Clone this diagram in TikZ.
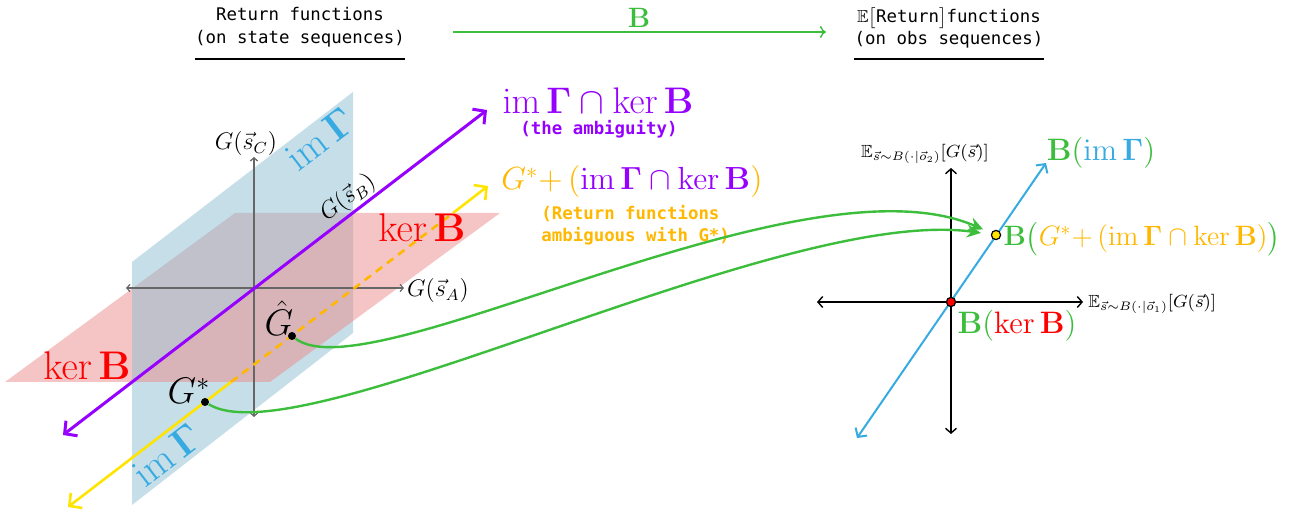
\RequirePackage{fix-cm}
\documentclass[tikz,border=0pt]{standalone}
\usepackage{amsmath,amssymb}
\usepackage[no-math]{fontspec}
\newfontfamily\monof{DejaVu Sans Mono}
\usetikzlibrary{arrows.meta,calc}
\definecolor{purp}{RGB}{150,0,255}
\definecolor{ylw}{RGB}{255,228,0}
\definecolor{orng}{RGB}{255,183,0}
\definecolor{grn}{RGB}{60,190,60}
\definecolor{bl}{RGB}{55,170,225}
\definecolor{planeB}{RGB}{139,189,209}
\definecolor{planeR}{RGB}{235,139,139}
\definecolor{rd}{RGB}{255,0,0}
\begin{document}
\begin{tikzpicture}[x=0.5pt,y=-0.5pt,
  mono/.style={font=\monof\fontsize{8.7}{11.35}\selectfont, inner sep=0pt},
  monob/.style={font=\monof\bfseries\fontsize{8.7}{11}\selectfont, inner sep=0pt},
  hugem/.style={font=\fontsize{20}{23}\selectfont, inner sep=0pt},
  bigm/.style={font=\fontsize{18.5}{21}\selectfont, inner sep=0pt},
  midm/.style={font=\fontsize{16}{19}\selectfont, inner sep=0pt},
  rlab/.style={font=\fontsize{14}{17}\selectfont, inner sep=0pt},
  rlabb/.style={font=\fontsize{15.5}{18}\selectfont, inner sep=0pt},
  axl/.style={font=\fontsize{12}{14}\selectfont, inner sep=0pt},
  eax/.style={font=\fontsize{8.8}{11}\selectfont, inner sep=0pt},
  bdot/.style={circle, fill=black, inner sep=0pt, minimum size=4pt},
  cdot/.style={circle, draw=black, line width=0.6pt, inner sep=0pt, minimum size=4.6pt},
  planeBfill/.style={fill=planeB, fill opacity=0.5},
  planeRfill/.style={fill=planeR, fill opacity=0.5},
  gax/.style={draw=black!60, line width=0.6pt, >={Straight Barb[length=1.6pt,width=3.6pt]}, <->},
  kax/.style={draw=black, line width=0.7pt, >={Straight Barb[length=2.4pt,width=5.5pt]}, <->},
  gconn/.style={draw=grn, line width=1.2pt, -{Stealth[length=7pt,width=6.5pt]}},
]
\useasboundingbox (0,0) rectangle (1292,518);

% ---------- planes ----------
\coordinate (R1) at (235,213); \coordinate (R2) at (500,213);
\coordinate (R3) at (270,382); \coordinate (R4) at (5,382);
\coordinate (B1) at (132,262); \coordinate (B2) at (353,92);
\coordinate (B3) at (353,333); \coordinate (B4) at (132,505);
\coordinate (L1) at (953,-246); \coordinate (L2) at (-445,822);
\begin{scope}
  \clip (L1) -- (L2) -- (-445,-246) -- cycle;
  \path[planeRfill] (R1) -- (R2) -- (R3) -- (R4) -- cycle;
  \path[planeBfill] (B1) -- (B2) -- (B3) -- (B4) -- cycle;
\end{scope}
\begin{scope}
  \clip (L1) -- (L2) -- (953,822) -- cycle;
  \path[planeBfill] (B1) -- (B2) -- (B3) -- (B4) -- cycle;
  \path[planeRfill] (R1) -- (R2) -- (R3) -- (R4) -- cycle;
\end{scope}

% ---------- left axes ----------
\coordinate (O) at (254,288);
\coordinate (axL) at (126,288); \coordinate (axR) at (404,288);
\coordinate (axT) at (254,157); \coordinate (axB) at (254,417);
\draw[gax] (axL) -- (axR);
\draw[gax] (axB) -- (axT);
\node[axl] (lA) at (438,291) {$G(\vec{s}_A)$};
\node[axl] (lC) at (246,144) {$G(\vec{s}_C)$};
\node[axl, rotate=37.5] (lB) at (348,198) {$G(\vec{s}_B)$};

% ---------- purple line ----------
\coordinate (pA) at (63,435); \coordinate (pB) at (487,110);
\draw[purp, line width=1.5pt, >={Straight Barb[length=4.5pt,width=9.5pt]}, <->] (pA) -- (pB);

% ---------- yellow line ----------
\coordinate (yA) at (68,507); \coordinate (y1) at (231,382);
\coordinate (y2) at (453,213); \coordinate (yB) at (488,186);
\draw[ylw, line width=1.3pt, {Straight Barb[length=4.5pt,width=9.5pt]}-] (yA) -- (y1);
\draw[orng, line width=1.3pt, dash pattern=on 4pt off 3pt] (y1) -- (y2);
\draw[ylw, line width=1.3pt, -{Straight Barb[length=4.5pt,width=9.5pt]}] (y2) -- (yB);

% ---------- dots ----------
\node[bdot] (gstar) at (205,402) {};
\node[bdot] (ghat) at (292,336) {};
\node[bigm] (lgstar) at (189,391) {$G^{*}$};
\node[bigm] (lghat) at (279,318) {$\hat{G}$};

% ---------- plane labels ----------
\node[hugem, text=rd] (kerL) at (87,366) {$\ker\mathbf{B}$};
\node[hugem, text=rd] (kerR) at (422,228) {$\ker\mathbf{B}$};
\node[hugem, text=bl, rotate=37.5] (imT) at (320,139) {$\operatorname{im}\mathbf{\Gamma}$};
\node[hugem, text=bl, rotate=37.5] (imB) at (167,455) {$\operatorname{im}\mathbf{\Gamma}$};

% ---------- middle labels ----------
\node[bigm, text=purp] (amb) at (598,101) {$\operatorname{im}\mathbf{\Gamma}\cap\ker\mathbf{B}$};
\node[monob, text=purp] (ambt) at (599,129) {(the ambiguity)};
\node[midm, text=orng] (coset) at (632,182) {$G^{*}{+}\,(\textcolor{purp}{\operatorname{im}\mathbf{\Gamma}\cap\ker\mathbf{B}})$};
\node[monob, text=orng, align=left, anchor=west] (cosett) at (541,225) {(Return functions\\ambiguous with G*)};

% ---------- headings ----------
\node[mono, align=center] (h1) at (300,27) {Return functions\\(on state sequences)};
\node[mono, align=center] (h2) at (949,28) {$\mathbb{E}\bigl[$Return$\bigr]$functions\\(on obs sequences)};
\draw[line width=0.7pt] ([yshift=-6pt]h1.south west) -- ([yshift=-6pt]h1.south east);
\draw[line width=0.7pt] ([yshift=-5pt]h2.south west) -- ([yshift=-5pt]h2.south east);
\coordinate (ta) at (453,32); \coordinate (tb) at (826,32);
\draw[grn, line width=0.7pt, -{To[length=3pt,width=6pt]}] (ta) -- (tb);
\node[rlab, text=grn] (Btop) at (639,18) {$\mathbf{B}$};

% ---------- right plot ----------
\coordinate (O2) at (951,302);
\coordinate (hL) at (817,302); \coordinate (hR) at (1083,302);
\coordinate (vT) at (951,168); \coordinate (vB) at (951,434);
\draw[kax] (hL) -- (hR);
\draw[kax] (vB) -- (vT);
\coordinate (bA) at (857,438); \coordinate (bB) at (1046,163);
\draw[bl, line width=1pt, >={Straight Barb[length=3.2pt,width=7pt]}, <->] (bA) -- (bB);
\node[eax] (e2) at (925,154) {$\mathbb{E}_{\vec{s}\sim B(\cdot|\vec{o}_2)}[G(\vec{s})]$};
\node[eax, anchor=west] (e1) at (1088,304) {$\mathbb{E}_{\vec{s}\sim B(\cdot|\vec{o}_1)}[G(\vec{s})]$};
\node[cdot, fill=rd] (rdot) at (O2) {};
\node[cdot, fill=ylw] (ydot) at (996,235) {};
\node[rlabb, text=grn] (bim) at (1101,153) {$\mathbf{B}(\textcolor{bl}{\operatorname{im}\mathbf{\Gamma}})$};
\node[rlab, text=grn] (bco) at (1142,239) {$\mathbf{B}\big(\textcolor{orng}{G^{*}{+}\,(\operatorname{im}\mathbf{\Gamma}\cap\ker\mathbf{B})}\big)$};
\node[rlabb, text=grn] (bker) at (1017,326) {$\mathbf{B}(\textcolor{rd}{\ker\mathbf{B}})$};

% ---------- green connectors ----------
\draw[gconn, shorten >=4.4pt] (ghat) .. controls (370,395) and (800,150) .. (ydot);
\draw[gconn, shorten >=5pt] (gstar) .. controls (300,460) and (780,205) .. (ydot);
\end{tikzpicture}
\end{document}
